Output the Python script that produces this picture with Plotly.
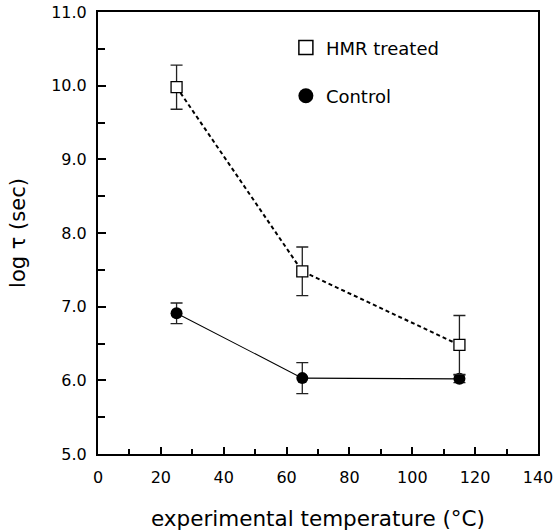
import plotly.graph_objects as go

temps = [25, 65, 115]
hmr_vals = [9.98, 7.48, 6.48]
hmr_err_plus = [0.30, 0.33, 0.40]
hmr_err_minus = [0.30, 0.33, 0.40]
ctrl_vals = [6.91, 6.03, 6.02]
ctrl_err_plus = [0.14, 0.21, 0.05]
ctrl_err_minus = [0.14, 0.21, 0.05]
x_ticks = [0, 20, 40, 60, 80, 100, 120, 140]
y_ticks = [5.0, 6.0, 7.0, 8.0, 9.0, 10.0, 11.0]

FONT = "DejaVu Sans, sans-serif"
fig = go.Figure()

fig.add_trace(go.Scatter(
    x=temps, y=ctrl_vals, mode="lines+markers", showlegend=False,
    line=dict(color="black", width=1.1),
    marker=dict(symbol="circle", size=12, color="black"),
    error_y=dict(type="data", array=ctrl_err_plus, arrayminus=ctrl_err_minus,
                 color="#222", thickness=1.3, width=6)))
fig.add_trace(go.Scatter(
    x=temps, y=hmr_vals, mode="lines+markers", showlegend=False,
    line=dict(color="black", width=2, dash="4px,3px"),
    marker=dict(symbol="square", size=11, color="white", line=dict(color="black", width=1.3)),
    error_y=dict(type="data", array=hmr_err_plus, arrayminus=hmr_err_minus,
                 color="#222", thickness=1.3, width=6)))

# legend-only traces
fig.add_trace(go.Scatter(x=[None], y=[None], mode="markers", name="HMR treated",
                         legend="legend",
                         marker=dict(symbol="square", size=14, color="white",
                                     line=dict(color="black", width=1.5))))
fig.add_trace(go.Scatter(x=[None], y=[None], mode="markers", name="Control",
                         legend="legend2",
                         marker=dict(symbol="circle", size=15, color="black")))

leg_common = dict(xanchor="left", yanchor="middle", font=dict(size=18, family=FONT),
                  itemwidth=30, bgcolor="rgba(0,0,0,0)")
fig.update_layout(
    width=555, height=531,
    margin=dict(l=98, r=17, t=12, b=77),
    paper_bgcolor="white", plot_bgcolor="white",
    font=dict(family=FONT, color="black"),
    legend=dict(x=0.427, y=0.919, **leg_common),
    legend2=dict(x=0.427, y=0.81, **leg_common),
    xaxis=dict(range=[0, 140], tickvals=x_ticks, ticktext=[str(v) for v in x_ticks],
               automargin=False, ticklabelstandoff=8, ticklabeloverflow="allow",
               showgrid=False, zeroline=False, showline=True, linecolor="black",
               linewidth=2, mirror=True, ticks="inside", ticklen=7, tickwidth=2,
               tickcolor="black", tickfont=dict(size=16, family=FONT),
               minor=dict(dtick=10, ticks="inside", ticklen=5, tickwidth=2, tickcolor="black"),
               title=dict(text="experimental temperature (°C)", font=dict(size=21.5, family=FONT),
                          standoff=30)),
    yaxis=dict(range=[5.0, 11.0], tickvals=y_ticks, ticktext=[f"{v:.1f}" for v in y_ticks],
               automargin=False, ticklabelstandoff=6, ticklabeloverflow="allow",
               showgrid=False, zeroline=False, showline=True, linecolor="black",
               linewidth=2, mirror=True, ticks="inside", ticklen=8, tickwidth=2,
               tickcolor="black", tickfont=dict(size=16, family=FONT),
               minor=dict(dtick=0.5, ticks="inside", ticklen=7, tickwidth=2, tickcolor="black"),
               title=dict(text="log τ (sec)", font=dict(size=21, family=FONT), standoff=20)),
)

fig.write_html(
    "out.html",
    config={"displayModeBar": False},
    post_script="document.body.style.margin='0';document.body.style.overflow='hidden';",
)
